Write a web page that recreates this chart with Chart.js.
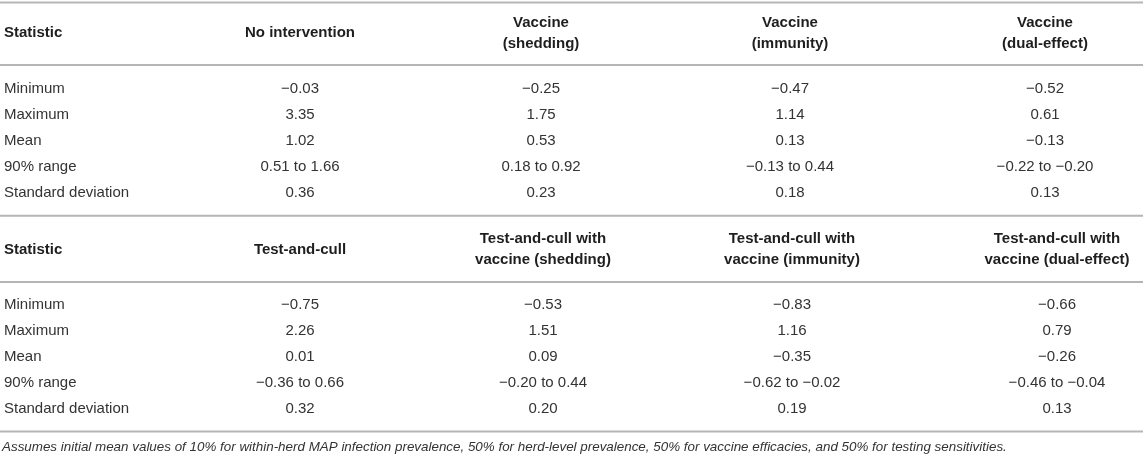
<!DOCTYPE html>
<html>
<head>
<meta charset="utf-8">
<script src="https://cdn.jsdelivr.net/npm/chart.js@4.4.1/dist/chart.umd.min.js"></script>
<style>
  html, body { margin: 0; padding: 0; background: #fff; }
  #wrap { width: 1143px; height: 457px; position: relative; }
</style>
</head>
<body>
<div id="wrap"><canvas id="table"></canvas></div>
<script>
Chart.defaults.font.family = "'Liberation Sans', Arial, sans-serif";

const statistics = ["Minimum", "Maximum", "Mean", "90% range", "Standard deviation"];

const headers1 = [["No intervention"], ["Vaccine", "(shedding)"], ["Vaccine", "(immunity)"], ["Vaccine", "(dual-effect)"]];
const headers2 = [["Test-and-cull"], ["Test-and-cull with", "vaccine (shedding)"], ["Test-and-cull with", "vaccine (immunity)"], ["Test-and-cull with", "vaccine (dual-effect)"]];

// minimum, maximum, mean, [90% range low, high], standard deviation
const noIntervention = [-0.03, 3.35, 1.02, [0.51, 1.66], 0.36];
const vaccineShedding = [-0.25, 1.75, 0.53, [0.18, 0.92], 0.23];
const vaccineImmunity = [-0.47, 1.14, 0.13, [-0.13, 0.44], 0.18];
const vaccineDual = [-0.52, 0.61, -0.13, [-0.22, -0.20], 0.13];
const testCull = [-0.75, 2.26, 0.01, [-0.36, 0.66], 0.32];
const testCullShedding = [-0.53, 1.51, 0.09, [-0.20, 0.44], 0.20];
const testCullImmunity = [-0.83, 1.16, -0.35, [-0.62, -0.02], 0.19];
const testCullDual = [-0.66, 0.79, -0.26, [-0.46, -0.04], 0.13];

const footnote = "Assumes initial mean values of 10% for within-herd MAP infection prevalence, 50% for herd-level prevalence, 50% for vaccine efficacies, and 50% for testing sensitivities.";

// layout in scale units (x: 1 = one column, y: 1 = one table row)
const X_MIN = -0.2, X_MAX = 4.372, Y_MAX = 17.577;
const labelX = -0.184;
const blocks = [
  { headers: headers1, cols: [noIntervention, vaccineShedding, vaccineImmunity, vaccineDual],
    colX: [1, 1.964, 2.96, 3.98], headMid: 1.27, rowStart: 3.4 },
  { headers: headers2, cols: [testCull, testCullShedding, testCullImmunity, testCullDual],
    colX: [1, 1.972, 2.968, 4.028], headMid: 9.6, rowStart: 11.74 },
];
const ruleY = [0.1, 2.5, 8.3, 10.85, 16.6];
const footY = 17.22;

const BODY_FONT = "15px 'Liberation Sans', Arial, sans-serif";
const HEAD_FONT = "bold 15px 'Liberation Sans', Arial, sans-serif";
const FOOT_FONT = "italic 13.4px 'Liberation Sans', Arial, sans-serif";

function num(v) {
  return (v < 0 ? "\u2212" : "") + Math.abs(v).toFixed(2);
}
function cell(v) {
  return Array.isArray(v) ? num(v[0]) + " to " + num(v[1]) : num(v);
}

const datasets = [];

ruleY.forEach((y) => {
  datasets.push({
    data: [{ x: X_MIN, y: y }, { x: X_MAX, y: y }],
    showLine: true,
    borderColor: "#b5b5b5",
    borderWidth: 2,
    pointRadius: 0,
  });
});

blocks.forEach((b) => {
  // header row
  const hPts = [{ x: labelX, y: b.headMid }], hTxt = ["Statistic"], hAlign = ["left"];
  b.headers.forEach((lines, c) => {
    lines.forEach((line, k) => {
      const off = lines.length === 1 ? 0 : (k === 0 ? -0.4 : 0.4);
      hPts.push({ x: b.colX[c], y: b.headMid + off });
      hTxt.push(line);
      hAlign.push("center");
    });
  });
  datasets.push({ data: hPts, texts: hTxt, aligns: hAlign, font: HEAD_FONT, textColor: "#1e1e1e", pointRadius: 0 });

  // statistic names
  datasets.push({
    data: statistics.map((s, r) => ({ x: labelX, y: b.rowStart + r })),
    texts: statistics, aligns: statistics.map(() => "left"),
    font: BODY_FONT, textColor: "#333", pointRadius: 0,
  });

  // values
  b.cols.forEach((col, c) => {
    datasets.push({
      data: col.map((v, r) => ({ x: b.colX[c], y: b.rowStart + r })),
      texts: col.map(cell), aligns: col.map(() => "center"),
      font: BODY_FONT, textColor: "#333", pointRadius: 0,
    });
  });
});

datasets.push({
  data: [{ x: -0.192, y: footY }], texts: [footnote], aligns: ["left"],
  font: FOOT_FONT, textColor: "#333", pointRadius: 0,
});

const cellText = {
  id: "cellText",
  afterDatasetsDraw(chart) {
    const ctx = chart.ctx;
    chart.data.datasets.forEach((ds, di) => {
      if (!ds.texts) return;
      const meta = chart.getDatasetMeta(di);
      ctx.save();
      ctx.font = ds.font;
      ctx.fillStyle = ds.textColor;
      ctx.textBaseline = "middle";
      meta.data.forEach((el, i) => {
        ctx.textAlign = ds.aligns[i];
        ctx.fillText(ds.texts[i], el.x, el.y);
      });
      ctx.restore();
    });
  },
};

const table = new Chart(document.getElementById("table"), {
  type: "scatter",
  data: { datasets: datasets },
  options: {
    responsive: true,
    maintainAspectRatio: false,
    animation: false,
    events: [],
    layout: { padding: 0 },
    plugins: { legend: { display: false }, tooltip: { enabled: false } },
    scales: {
      x: { type: "linear", display: false, min: X_MIN, max: X_MAX },
      y: { type: "linear", display: false, reverse: true, min: 0, max: Y_MAX },
    },
  },
  plugins: [cellText],
});
</script>
</body>
</html>
